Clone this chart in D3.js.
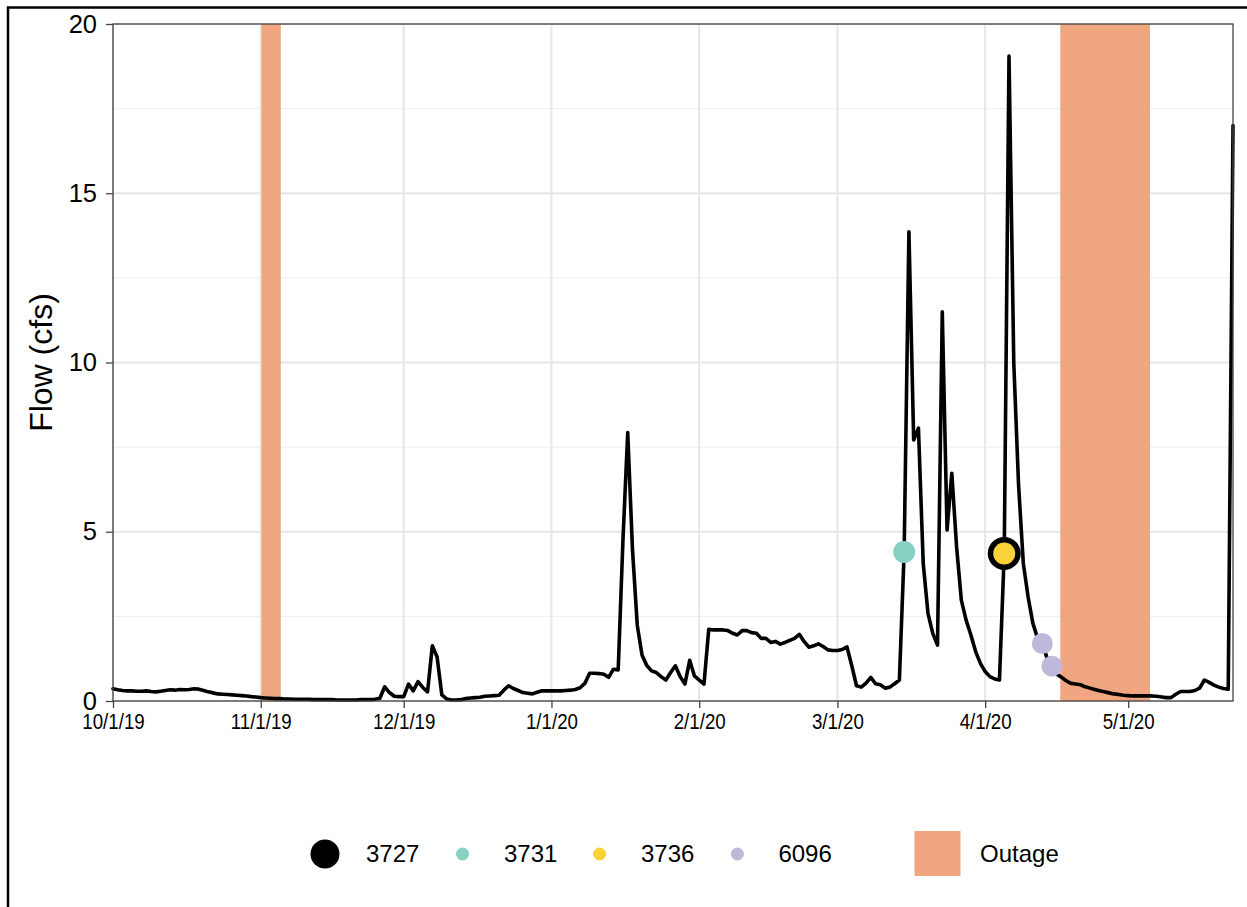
<!DOCTYPE html>
<html>
<head>
<meta charset="utf-8">
<script src="https://cdn.jsdelivr.net/npm/d3@7"></script>
<style>
  html, body { margin: 0; padding: 0; background: #fff; }
  svg { display: block; font-family: "Liberation Sans", Arial, sans-serif; }
</style>
</head>
<body>
<svg id="chart" width="1247" height="907"></svg>
<script>
// Daily mean flow (cfs), one array per month, starting 10/1/19
const flowStart = "2019-10-01";
const flowOct2019 = [0.36,0.33,0.31,0.30,0.30,0.29,0.29,0.30,0.28,0.27,0.29,0.31,0.33,0.32,0.34,0.33,0.34,0.36,0.35,0.31,0.27,0.24,0.21,0.20,0.19,0.18,0.17,0.16,0.15,0.13,0.12];
const flowNov2019 = [0.10,0.09,0.08,0.07,0.07,0.06,0.06,0.05,0.05,0.05,0.05,0.04,0.04,0.04,0.04,0.04,0.03,0.03,0.03,0.03,0.03,0.04,0.04,0.04,0.05,0.08,0.42,0.25,0.14,0.13];
const flowDec2019 = [0.13,0.50,0.30,0.57,0.40,0.27,1.63,1.30,0.18,0.06,0.03,0.03,0.04,0.07,0.09,0.10,0.11,0.14,0.15,0.16,0.17,0.32,0.45,0.37,0.31,0.25,0.23,0.21,0.26,0.30,0.30];
const flowJan2020 = [0.30,0.30,0.30,0.31,0.32,0.34,0.39,0.52,0.82,0.82,0.81,0.79,0.70,0.94,0.92,4.76,7.93,4.47,2.24,1.36,1.05,0.89,0.84,0.72,0.62,0.84,1.04,0.72,0.50,1.20,0.74];
const flowFeb2020 = [0.62,0.50,2.12,2.10,2.10,2.10,2.08,2.00,1.95,2.08,2.08,2.02,2.00,1.85,1.85,1.73,1.76,1.68,1.73,1.79,1.85,1.97,1.76,1.59,1.63,1.69,1.61,1.51,1.49];
const flowMar2020 = [1.49,1.52,1.60,1.05,0.45,0.41,0.53,0.70,0.51,0.48,0.38,0.41,0.51,0.62,4.40,13.86,7.71,8.06,4.07,2.59,2.00,1.65,11.50,5.05,6.73,4.56,2.98,2.39,1.95,1.46,1.11];
const flowApr2020 = [0.87,0.72,0.65,0.62,4.36,19.05,10.0,6.4,4.07,3.08,2.30,1.85,1.70,1.26,1.03,0.80,0.70,0.60,0.52,0.50,0.48,0.42,0.38,0.34,0.30,0.27,0.24,0.21,0.19,0.17];
const flowMay2020 = [0.16,0.15,0.15,0.15,0.15,0.15,0.14,0.12,0.10,0.10,0.20,0.28,0.28,0.28,0.31,0.38,0.62,0.55,0.47,0.41,0.37,0.35,17.0];

// Water-quality samples taken at the gauge
const sampleSite = ["3727", "3736", "3731", "6096", "6096"];
const sampleDate = ["2020-04-05", "2020-04-05", "2020-03-15", "2020-04-13", "2020-04-15"];
const sampleFlow = [4.36, 4.36, 4.40, 1.70, 1.03];

// Gauge outage periods
const outageStart = ["2019-11-01T03:00", "2020-04-16T18:00"];
const outageEnd = ["2019-11-05T05:00", "2020-05-05T14:00"];

// Axis breaks and legend entries
const xTickDates = ["2019-10-01","2019-11-01","2019-12-01","2020-01-01","2020-02-01","2020-03-01","2020-04-01","2020-05-01"];
const yTicks = [0, 5, 10, 15, 20];
const yMinorTicks = [2.5, 7.5, 12.5, 17.5];
const siteNames = ["3727", "3731", "3736", "6096"];
const siteColors = ["#000000", "#86d1c1", "#f9d23a", "#bdb9da"];
const outageLabel = "Outage";
const outageColor = "#f1a682";

const parseDate = d3.isoParse;
const dayMs = 86400000;
const flow = [].concat(flowOct2019, flowNov2019, flowDec2019, flowJan2020,
                       flowFeb2020, flowMar2020, flowApr2020, flowMay2020);
const t0 = parseDate(flowStart + "T00:00");
const series = flow.map((v, i) => ({ date: new Date(t0.getTime() + i * dayMs), value: v }));

const svg = d3.select("#chart");
const panel = { left: 113, top: 24, right: 1233, bottom: 701 };
const fontFamily = "'Liberation Sans', Arial, sans-serif";

// outer frame
svg.append("rect").attr("x", 8).attr("y", 7.5).attr("width", 1260).attr("height", 950)
  .attr("fill", "none").attr("stroke", "#000").attr("stroke-width", 2.5);

const x = d3.scaleTime()
  .domain([series[0].date, series[series.length - 1].date])
  .range([panel.left, panel.right]);
const y = d3.scaleLinear().domain([0, 20]).range([panel.bottom, panel.top]);

const g = svg.append("g");

// grid
g.selectAll("line.minor").data(yMinorTicks).join("line")
  .attr("x1", panel.left).attr("x2", panel.right)
  .attr("y1", d => y(d)).attr("y2", d => y(d))
  .attr("stroke", "#f1f1f1").attr("stroke-width", 1.2);
g.selectAll("line.hmajor").data(yTicks).join("line")
  .attr("x1", panel.left).attr("x2", panel.right)
  .attr("y1", d => y(d)).attr("y2", d => y(d))
  .attr("stroke", "#e6e6e6").attr("stroke-width", 2);
g.selectAll("line.vmajor").data(xTickDates.map(parseDate)).join("line")
  .attr("x1", d => x(d)).attr("x2", d => x(d))
  .attr("y1", panel.top).attr("y2", panel.bottom)
  .attr("stroke", "#e6e6e6").attr("stroke-width", 2);

// outages
g.selectAll("rect.outage").data(outageStart.map((s, i) => [parseDate(s), parseDate(outageEnd[i])]))
  .join("rect")
  .attr("x", d => x(d[0])).attr("width", d => x(d[1]) - x(d[0]))
  .attr("y", panel.top).attr("height", panel.bottom - panel.top)
  .attr("fill", outageColor);

// flow line
const line = d3.line().x(d => x(d.date)).y(d => y(d.value));
g.append("path").datum(series)
  .attr("d", line).attr("fill", "none")
  .attr("stroke", "#000").attr("stroke-width", 3.6)
  .attr("stroke-linejoin", "round").attr("stroke-linecap", "round");

// sample points
const siteRadius = { "3727": 16.5, "3731": 11, "3736": 11, "6096": 10.5 };
const samples = sampleSite.map((s, i) => ({ site: s, date: parseDate(sampleDate[i]), value: sampleFlow[i] }));
g.selectAll("circle.sample").data(samples).join("circle")
  .attr("cx", d => x(d.date)).attr("cy", d => y(d.value))
  .attr("r", d => siteRadius[d.site])
  .attr("fill", d => siteColors[siteNames.indexOf(d.site)]);

// panel border
g.append("rect").attr("x", panel.left).attr("y", panel.top)
  .attr("width", panel.right - panel.left).attr("height", panel.bottom - panel.top)
  .attr("fill", "none").attr("stroke", "#444").attr("stroke-width", 1.3);

// axes
const fmt = d3.timeFormat("%-m/%-d/%y");
const xAxis = d3.axisBottom(x).tickValues(xTickDates.map(parseDate)).tickFormat(fmt)
  .tickSize(7).tickPadding(5);
const gx = svg.append("g").attr("transform", `translate(0,${panel.bottom})`).call(xAxis);
gx.select(".domain").remove();
gx.selectAll(".tick line").attr("stroke", "#444").attr("stroke-width", 1.3);
gx.selectAll(".tick text").attr("fill", "#000").style("font-size", "22px")
  .style("font-family", fontFamily).attr("transform", "scale(0.85,1)");

const yAxis = d3.axisLeft(y).tickValues(yTicks).tickSize(7).tickPadding(9);
const gy = svg.append("g").attr("transform", `translate(${panel.left},0)`).call(yAxis);
gy.select(".domain").remove();
gy.selectAll(".tick line").attr("stroke", "#444").attr("stroke-width", 1.3);
gy.selectAll(".tick text").attr("fill", "#000").style("font-size", "25.5px")
  .style("font-family", fontFamily);

svg.append("text")
  .attr("transform", `translate(52,${(panel.top + panel.bottom) / 2}) rotate(-90)`)
  .attr("text-anchor", "middle").style("font-size", "32px").attr("fill", "#000")
  .text("Flow (cfs)");

// legend
const legY = 854;
const legKeyX = [325, 462.5, 599.6, 737.4];
const legTextX = [366, 504, 641, 778.4];
const legR = [14.5, 6.5, 6.5, 6.5];
const leg = svg.append("g");
siteNames.forEach((s, i) => {
  leg.append("circle").attr("cx", legKeyX[i]).attr("cy", legY).attr("r", legR[i])
    .attr("fill", siteColors[i]);
  leg.append("text").attr("x", legTextX[i]).attr("y", legY).attr("dy", "0.35em")
    .style("font-size", "24px").attr("fill", "#000").text(s);
});
leg.append("rect").attr("x", 914.5).attr("y", 831).attr("width", 46).attr("height", 45)
  .attr("fill", outageColor);
leg.append("text").attr("x", 980).attr("y", legY).attr("dy", "0.35em")
  .style("font-size", "24px").attr("fill", "#000").text(outageLabel);
</script>
</body>
</html>
